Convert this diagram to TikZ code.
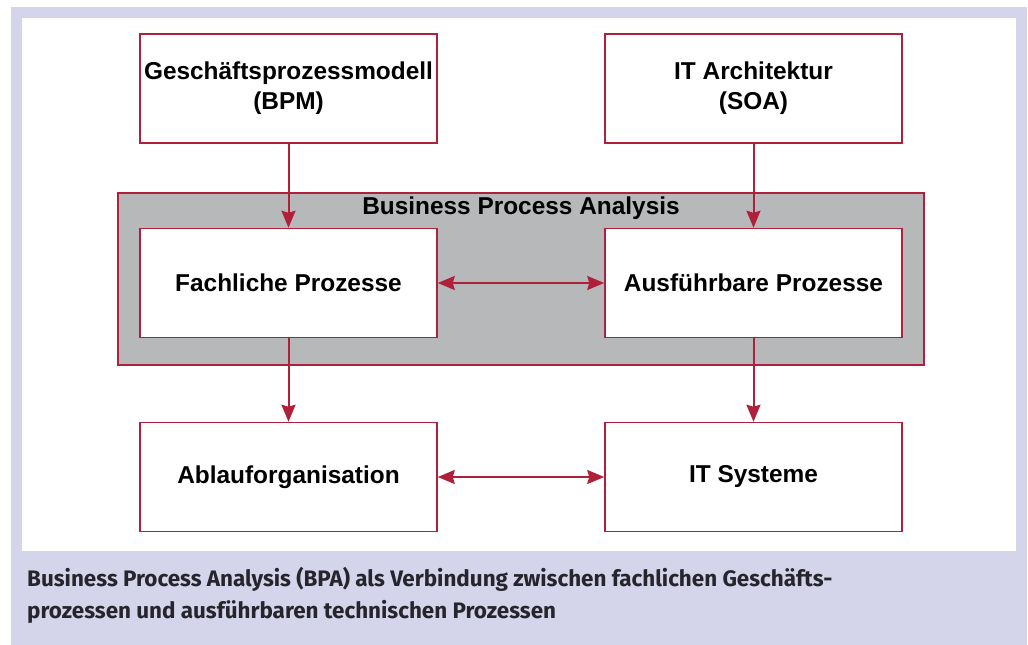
\documentclass[tikz,border=0pt]{standalone}
\usepackage{fontspec}
\setmainfont{Liberation Sans}
\newfontfamily\captionfont{Fira Sans}
\usetikzlibrary{arrows.meta,positioning}
\definecolor{crimson}{RGB}{176,32,58}
\definecolor{slate}{RGB}{182,184,186}
\definecolor{lavender}{RGB}{212,212,234}
\definecolor{ink}{RGB}{38,36,44}
\tikzset{
  >={Stealth[length=17bp,width=14bp,inset=2bp]},
  procbox/.style={draw=crimson,fill=white,line width=1.5bp,inner sep=0pt,
    minimum width=297bp,minimum height=109bp,align=center,
    font=\bfseries\fontsize{24.5}{30}\selectfont},
  area/.style={draw=crimson,fill=slate,line width=1.5bp,inner sep=0pt,
    minimum width=806bp,minimum height=172bp},
  link/.style={->,draw=crimson,line width=2bp},
  title/.style={font=\bfseries\fontsize{24.5}{30}\selectfont},
  caption/.style={anchor=base west,inner sep=0pt,text=ink,
    font=\captionfont\bfseries\fontsize{22.5}{32}\selectfont},
}
\begin{document}
\begin{tikzpicture}[x=1bp,y=-1bp]
    % frame
    \useasboundingbox (0,0) rectangle (1028,645);
    \fill[white] (0,0) rectangle (1028,645);
    \fill[lavender] (11,7) rectangle (1027,645);
    \fill[white] (22,18) rectangle (1016,551);
    % analysis area
    \node[area] (bpa) at (521,279) {};
    \node[title] (bpatitle) at (521,208) {Business Process Analysis};
    % boxes
    \node[procbox] (bpm) at (288.5,88.5) {Geschäftsprozessmodell\\(BPM)};
    \node[procbox] (soa) at (753.5,88.5) {IT Architektur\\(SOA)};
    \node[procbox] (fach) at (288.5,283) {Fachliche Prozesse};
    \node[procbox] (ausf) at (753.5,283) {Ausführbare Prozesse};
    \node[procbox] (ablauf) at (288.5,477) {Ablauforganisation};
    \node[procbox] (itsys) at (753.5,477) {IT Systeme};
    % links
    \draw[link] (bpm) -- (fach);
    \draw[link] (soa) -- (ausf);
    \draw[link] (fach) -- (ablauf);
    \draw[link] (ausf) -- (itsys);
    \draw[link,<->] (fach) -- (ausf);
    \draw[link,<->] (ablauf) -- (itsys);
    % caption
    \node[caption] (cap1) at (27,586) {Business Process Analysis (BPA) als Verbindung zwischen fachlichen Geschäfts-};
    \node[caption] (cap2) at (27,618) {prozessen und ausführbaren technischen Prozessen};
\end{tikzpicture}
\end{document}
